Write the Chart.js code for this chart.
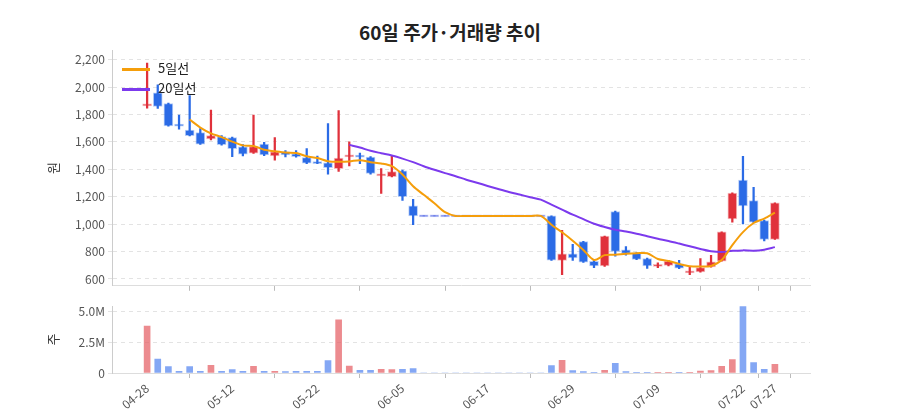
<!DOCTYPE html>
<html><head><meta charset="utf-8">
<script src="https://cdn.jsdelivr.net/npm/chart.js@4/dist/chart.umd.min.js"></script>
<style>
body{margin:0;width:900px;height:420px;background:#fff;font-family:"Noto Sans CJK KR","Noto Sans",sans-serif;position:relative;overflow:hidden}
#title{position:absolute;top:18px;left:0;width:900px;text-align:center;font-size:19px;font-weight:bold;color:#222}
#c1{position:absolute;left:0;top:0}
#c2{position:absolute;left:0;top:296px}
#legend{position:absolute;left:122px;top:58px;font-size:13px;color:#222;line-height:20px}
#legend span.l{display:inline-block;width:28px;height:3px;vertical-align:middle;margin-right:8px}
</style></head><body>
<div id="title">60일 주가·거래량 추이</div>
<canvas id="c1" width="900" height="296"></canvas>
<canvas id="c2" width="900" height="124"></canvas>
<div id="legend"><div><span class="l" style="background:#f59e0b"></span>5일선</div><div><span class="l" style="background:#7c3aed"></span>20일선</div></div>
<script>
const dates=["04-28","04-29","04-30","05-04","05-06","05-07","05-08","05-11","05-12","05-13","05-14","05-15","05-18","05-19","05-20","05-21","05-22","05-25","05-26","05-27","05-28","05-29","06-01","06-02","06-05","06-08","06-09","06-10","06-11","06-12","06-15","06-16","06-17","06-18","06-19","06-22","06-23","06-24","06-25","06-26","06-29","06-30","07-01","07-02","07-03","07-06","07-07","07-08","07-09","07-10","07-13","07-14","07-15","07-16","07-17","07-21","07-22","07-23","07-24","07-27"];
const shownLabels=["04-28","05-12","05-22","06-05","06-17","06-29","07-09","07-22","07-27"];
const openP=[1865,1957,1879,1725,1686,1667,1622,1638,1631,1563,1518,1584,1497,1527,1513,1485,1454,1447,1405,1490,1501,1489,1353,1346,1388,1134,1060,1060,1060,1060,1060,1060,1060,1060,1060,1060,1060,1060,1061,735,784,872,728,695,1092,813,789,749,695,699,711,645,652,687,730,1037,1321,1172,1026,888];
const highP=[2175,2016,1882,1796,1938,1697,1832,1645,1635,1580,1796,1596,1631,1536,1536,1551,1497,1734,1828,1600,1518,1492,1405,1494,1395,1181,1060,1060,1060,1060,1060,1060,1060,1060,1060,1060,1060,1060,1061,955,853,875,735,912,1095,836,792,752,718,735,735,687,749,773,943,1228,1494,1269,1030,1156];
const lowP=[1845,1844,1714,1693,1644,1582,1615,1576,1492,1497,1515,1500,1466,1490,1488,1440,1440,1365,1384,1424,1440,1364,1224,1344,1172,995,1060,1060,1060,1060,1060,1060,1060,1060,1060,1060,1060,1060,735,631,735,720,683,692,766,773,740,676,683,695,675,631,650,685,730,1014,1002,1010,877,888];
const closeP=[1875,1858,1716,1718,1646,1584,1646,1580,1551,1510,1565,1504,1527,1505,1492,1444,1442,1412,1482,1506,1490,1370,1365,1384,1200,1059,1060,1060,1060,1060,1060,1060,1060,1060,1060,1060,1060,1060,737,784,754,723,695,912,801,787,742,695,702,730,678,659,683,725,943,1226,1132,1014,888,1156];
const volumeM=[3.8,1.12,0.52,0.14,0.52,0.14,0.63,0.14,0.27,0.14,0.54,0.14,0.14,0.11,0.14,0.14,0.14,1.0,4.3,0.57,0.22,0.22,0.3,0.27,0.3,0.35,0,0,0,0,0,0,0,0,0,0,0,0,0.6,1.03,0.19,0.11,0.05,0.22,0.79,0.11,0.05,0.05,0.05,0.02,0.03,0.03,0.16,0.19,0.54,1.09,5.88,0.84,0.3,0.71];
const yTicks=[600,800,1000,1200,1400,1600,1800,2000,2200];
const volTicks=[0,2.5,5.0];

const RED='#e0313b',BLUE='#2b6be6',FLAT='#5468e6';
const up=closeP.map((c,i)=>c>openP[i]);
const flat=closeP.map((c,i)=>c===openP[i]);
const candleColor=closeP.map((c,i)=>flat[i]?FLAT:(up[i]?RED:BLUE));
function ma(n){return closeP.map((_,i)=>{if(i<n-1)return null;let s=0;for(let k=i-n+1;k<=i;k++)s+=closeP[k];return {x:i,y:s/n};}).filter(p=>p);}
const bodies=openP.map((o,i)=>{let a=Math.min(o,closeP[i]),b=Math.max(o,closeP[i]);if(b-a<16){const m=(a+b)/2;a=m-8;b=m+8;}return {x:i,y:[a,b]};});
const wicks=highP.map((h,i)=>({x:i,y:[lowP[i],h]}));
const vols=volumeM.map((v,i)=>({x:i,y:v}));
const shownIdx=shownLabels.map(l=>dates.indexOf(l));
const xMin=-3.3,xMax=dates.length-1+3.3;
const tickSet=s=>{s.ticks=shownIdx.map(v=>({value:v}));};
const font={family:'"Noto Sans CJK KR","Noto Sans",sans-serif',size:12};
Chart.defaults.font.family=font.family;
Chart.defaults.color='#555';

new Chart(document.getElementById('c1'),{
 data:{datasets:[
  {type:'line',label:'5일선',data:ma(5),borderColor:'#f59e0b',borderWidth:2,pointRadius:0,tension:0.3,order:0},
  {type:'line',label:'20일선',data:ma(20),borderColor:'#7c3aed',borderWidth:2,pointRadius:0,tension:0.3,order:0},
  {type:'bar',data:wicks,backgroundColor:candleColor,barThickness:1.6,grouped:false,order:2},
  {type:'bar',data:bodies,backgroundColor:candleColor,barThickness:9,grouped:false,order:1,
   borderColor:candleColor.map(c=>c+'55'),borderWidth:1,borderSkipped:false}
 ]},
 options:{responsive:false,animation:false,
  layout:{padding:{top:50,right:90,left:45,bottom:0}},
  plugins:{legend:{display:false},tooltip:{enabled:false}},
  scales:{
   x:{type:'linear',min:xMin,max:xMax,offset:false,grid:{drawOnChartArea:false,drawTicks:true,tickLength:5,color:'#bbb'},border:{color:'#ddd'},
      afterBuildTicks:tickSet,ticks:{display:false},afterFit:s=>{s.height=4;}},
   y:{min:550,max:2270,afterBuildTicks:s=>{s.ticks=yTicks.map(v=>({value:v}));},
      ticks:{font:font,color:'#555',callback:v=>v.toLocaleString('en-US')},
      grid:{color:'#e3e3e3',tickLength:4},border:{color:'#ccc',dash:[4,4]},
      title:{display:true,text:'원',font:{size:13},color:'#333',padding:0},
      afterFit:s=>{s.width=67;}}
  }}
});

new Chart(document.getElementById('c2'),{
 type:'bar',
 data:{datasets:[{data:vols,backgroundColor:closeP.map((c,i)=>up[i]?'rgba(228,90,96,0.7)':'rgba(80,130,240,0.7)'),barThickness:6}]},
 options:{responsive:false,animation:false,
  layout:{padding:{top:2,right:90,left:45,bottom:0}},
  plugins:{legend:{display:false},tooltip:{enabled:false}},
  scales:{
   x:{type:'linear',min:xMin,max:xMax,offset:false,grid:{drawOnChartArea:false,tickLength:5,color:'#bbb'},border:{color:'#ddd'},afterBuildTicks:tickSet,
      ticks:{autoSkip:false,minRotation:40,maxRotation:40,font:font,color:'#555',callback:v=>dates[v]},afterFit:s=>{s.height=47;}},
   y:{min:0,max:5.41,afterBuildTicks:s=>{s.ticks=volTicks.map(v=>({value:v}));},
      ticks:{font:font,color:'#555',callback:v=>v===0?'0':v.toFixed(1)+'M'},
      grid:{color:'#e3e3e3',tickLength:4},border:{color:'#ccc',dash:[4,4]},
      title:{display:true,text:'주',font:{size:13},color:'#333',padding:0},
      afterFit:s=>{s.width=67;}}
  }}
});
</script></body></html>
